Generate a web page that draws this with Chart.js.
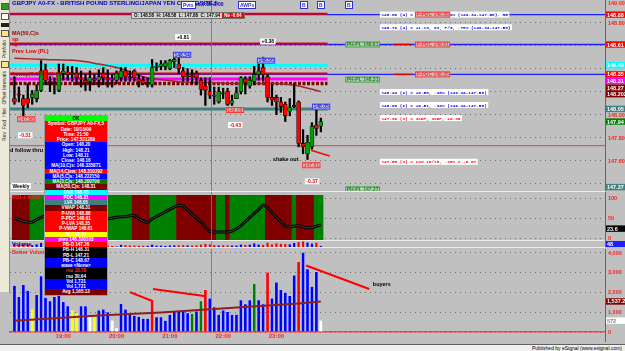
<!DOCTYPE html>
<html>
<head>
<meta charset="utf-8">
<title>GBPJPY A0-FX 5 min</title>
<script src="https://cdn.jsdelivr.net/npm/chart.js"></script>
<style>
  html, body { margin: 0; padding: 0; }
  body { width: 625px; height: 351px; background: #c0c0c0; position: relative; overflow: hidden;
         font-family: "Liberation Sans", Arial, sans-serif; }
  canvas { position: absolute; left: 0; }
  .sep { position: absolute; left: 10px; width: 595px; height: 1px; background: #ececec; }
  #tools { position: absolute; left: 0; top: 0; width: 9px; height: 292px; background: #ece9d8; border-right: 1px solid #8a8a8a; }
  #tools div { width: 6px; height: 5px; margin: 3px 1px 0 1px; border: 1px solid #555; background: #fff; }
  #tools span { display: block; writing-mode: vertical-rl; transform: rotate(180deg); font-size: 5px; color: #222; margin: 3px 0 0 1px; }
  #title { position: absolute; left: 12px; top: 0px; font: bold 6px "Liberation Sans"; color: #0000c0; white-space: nowrap; }
  .tb { position: absolute; top: 1px; height: 6px; border: 1px solid #3030d0; background: #fff; font: bold 5px "Liberation Sans"; color: #3030d0; line-height: 6px; padding: 0 1px; }
  #ohlc { position: absolute; left: 131px; top: 12px; height: 5px; background: #d8d8d8; border: 1px solid #707070;
          font: bold 4.5px "Liberation Sans"; line-height: 5px; color: #000; white-space: nowrap; padding-left: 2px; }
  #ohlc b { background: #ff0000; color: #fff; padding: 0 2px; margin-left: 2px; }
  #info { position: absolute; left: 44px; top: 115px; width: 62px; border: 1px solid #9a9a9a; background: #fff; }
  #info div { height: 5.25px; line-height: 5.25px; font: bold 4.6px "Liberation Sans"; text-align: center; white-space: nowrap; overflow: hidden; }
  #foot { position: absolute; left: 0; top: 344px; width: 625px; height: 7px; background: #f0f0f0; border-top: 1px solid #606060; }
  #foot span { position: absolute; right: 3px; top: 0; font: 5px "Liberation Sans"; color: #000; }
</style>
</head>
<body>
<canvas id="price" width="625" height="191" style="top:0"></canvas>
<canvas id="rsi" width="625" height="50" style="top:192px"></canvas>
<canvas id="strip" width="625" height="6" style="top:241px"></canvas>
<canvas id="vol" width="625" height="93" style="top:249px"></canvas>
<div class="sep" style="top:191px"></div>
<div class="sep" style="top:240px"></div>
<div class="sep" style="top:247px"></div>

<div id="tools">
  <div style="background:#2a9a2a"></div><div></div><div style="border-color:#222;background:#222;height:2px"></div>
  <div style="background:#ffe680"></div><span>Portfolio</span>
  <div style="background:#ffe680"></div><span>Offset Intervals</span><span>Hist</span><span>Fwd</span><span>Rev</span>
</div>
<div id="title">GBPJPY A0-FX - BRITISH POUND STERLING/JAPAN YEN COMPOSITE,5</div>
<div class="tb" style="left:181px">Pvts</div>
<div style="position:absolute;left:196px;top:1px;font:bold 5px 'Liberation Sans';color:#0000c0">m,0:00-0:00</div>
<div class="tb" style="left:238px">AWPs</div>
<div class="tb" style="left:300px">B</div>
<div class="tb" style="left:317px">B</div>
<div class="tb" style="left:345px">B</div>
<div id="ohlc">O: 148.58 &nbsp;H: 148.58 &nbsp;L: 147.88 &nbsp;C: 147.94<b>Ne -0.64</b></div>
<div id="info"></div>
<div id="foot"><span>Published by eSignal (www.esignal.com)</span></div>

<script>
// ---- price bars (5 min, 18:05 .. 23:50) ----
const opens  = [148.14,148.18,148.14,148.14,148.15,148.14,148.21,148.39,148.29,148.27,
                148.21,148.36,148.37,148.35,148.36,148.32,148.30,148.29,148.31,148.30,
                148.36,148.32,148.31,148.30,148.32,148.38,148.33,148.38,148.31,148.30,
                148.27,148.26,148.41,148.42,148.42,148.40,148.46,148.44,148.38,148.33,
                148.34,148.36,148.30,148.25,148.20,148.17,148.11,148.19,148.20,148.10,
                148.14,148.20,148.31,148.25,148.29,148.35,148.41,148.33,148.15,148.15,
                148.11,148.09,148.03,148.07,148.11,147.75,147.66,147.72,147.91,147.90];
const highs  = [148.33,148.24,148.17,148.27,148.21,148.26,148.47,148.44,148.33,148.32,
                148.44,148.44,148.42,148.42,148.41,148.38,148.35,148.38,148.35,148.39,
                148.41,148.39,148.35,148.38,148.41,148.41,148.38,148.39,148.35,148.33,
                148.32,148.48,148.45,148.47,148.47,148.48,148.54,148.51,148.41,148.40,
                148.39,148.38,148.32,148.32,148.32,148.24,148.24,148.23,148.23,148.17,
                148.24,148.33,148.33,148.33,148.42,148.44,148.50,148.35,148.26,148.17,
                148.15,148.11,148.14,148.27,148.12,147.87,147.82,147.93,148.05,147.97];
const lows   = [148.09,148.11,147.99,148.06,148.09,148.11,148.20,148.26,148.20,148.18,
                148.20,148.30,148.30,148.29,148.26,148.24,148.21,148.21,148.26,148.24,
                148.26,148.24,148.24,148.27,148.29,148.29,148.29,148.29,148.24,148.26,
                148.24,148.24,148.38,148.39,148.39,148.39,148.41,148.36,148.29,148.29,
                148.27,148.26,148.17,148.08,148.14,148.09,148.10,148.14,148.08,148.08,
                148.14,148.18,148.18,148.23,148.26,148.30,148.29,148.11,148.08,148.00,
                148.02,147.94,147.99,148.06,147.72,147.66,147.61,147.70,147.82,147.85];
const closes = [148.11,148.17,148.08,148.10,148.18,148.21,148.38,148.30,148.28,148.26,
                148.36,148.38,148.35,148.36,148.32,148.31,148.28,148.32,148.30,148.33,
                148.32,148.31,148.30,148.36,148.38,148.33,148.32,148.32,148.29,148.27,
                148.28,148.41,148.42,148.44,148.45,148.47,148.48,148.40,148.33,148.34,
                148.33,148.32,148.22,148.21,148.17,148.16,148.20,148.18,148.09,148.12,
                148.19,148.32,148.28,148.30,148.35,148.38,148.35,148.15,148.13,148.11,
                148.07,147.99,148.06,148.08,147.75,147.72,147.76,147.90,147.88,147.94];

// ---- MA(50,C) read at a few bars ----
const maBars = [1, 8, 15, 20, 25, 30, 35, 40, 45, 50, 55, 60, 65, 70];
const maVals = [148.49,148.48,148.47,148.44,148.40,148.33,148.30,148.28,148.28,148.27,148.27,148.27,148.25,148.20];

// ---- volume ----
const volumes = [2340,1770,2380,2080,1160,1870,2810,1730,1560,1770,
                 1870,1520,1300,1090, 950,1300,1300, 830, 830,1090,
                 1140,1000, 570, 200,1420,1140, 880, 830, 780, 670,
                  670,1560, 750, 750, 570, 880,1010,1040,1090, 950,
                  920,1040,1560,2130,1700,1250, 880,1090,1010, 880,
                  880,1610,1400,1610,2440,1610,1400,3000,1700,2500,
                 2130,1980,1820,2860,3540,4000,3170,2290,3030, 570];
const volKinds = 'bbbbybbbbbbbbyybbwybbbwwbbbbbbbrbbbbbbbbgbgrbbbbbbbbbbgbbrbbbbbbrbbbbw';
const volAvgBars = [1, 20, 34, 52, 65, 70];
const volAvgVals = [570, 830, 980, 1250, 1440, 1540];

// ---- RSI ----
const rsiBars = [1,3,4,5,7,9,12,15,18,20,22,24,26,28,29,30,31,32,34,36,38,39,41,43,45,46,47,48,49,50,52,54,56,57,58,60,62,63,64,65,66,67,68,69,70];
const rsiVals = [50,42,40,40,52,58,68,60,52,50,48,52,54,56,48,42,40,48,60,72,82,79,60,40,17,15,15,15,15,17,31,52,72,82,76,52,31,28,30,31,28,26,26,30,33];
const rsiTrend = 'ddddduuuuuuuddddddddduuuuuuudddduuuuuuddddddddduuduuuuuuuuddddddudddduuu'.slice(1, 71);

// ---- axes ----
const timeLabels = ['19:00', '20:00', '21:00', '22:00', '23:00'];
const timeTickBars = [12, 24, 36, 48, 60];
const priceTicks = [149.0, 148.8, 148.6, 148.4, 148.2, 148.0, 147.8, 147.6, 147.4];
const volTicks = [0, 1000, 2000, 3000, 4000];
const rsiTicks = [0, 50, 100];

// ---- reference levels ----
const prevDayLevels = [148.87, 148.61, 148.35];   // P-UVA, P-PDC, P-LVA
const valueAreaLevels = [148.43, 148.31, 148.27, 148.05]; // UVA, PDC, VWAP, LVA
const crossPrice = 147.73;
const crossBar = 45.3;

const priceTagVals = [148.87, 148.61, 148.43, 148.35, 148.31, 148.27, 148.2026, 148.05, 147.94, 147.37];
const priceTagText = ['148.88','148.61','148.43','148.35','148.31','148.27','148.2026','148.05','147.94','147.37'];

// ---------------- styling ----------------
const UP = '#00a000', DOWN = '#ff0000', AXIS_RED = '#e03030';
const LAST = 134;
const volColor = { b: '#0000ff', y: '#ffff00', w: '#ffffff', r: '#ff0000', g: '#008000' };
const priceTagColors = ['#ff0000','#ff0000','#00ffff','#ff0000','#ff00ff','#800000','#800000','#408080','#008000','#408080'];
const levelColors = ['#00ffff', '#ff00ff', '#800000', '#408080'];
const levelWidths = [3, 3, 3.5, 3];
const levelDash = [[], [], [3, 1.5], []];
const CANDLE_END = 71.5;

const bars = opens.map((o, i) => i + 1);

function segment(x0, x1, y) { return [{ x: x0, y: y }, { x: x1, y: y }]; }
function lineDs(data, color, width, order, extra) {
  return Object.assign({ type: 'line', data: data, borderColor: color, borderWidth: width,
    pointRadius: 0, fill: false, order: order }, extra || {});
}

function xAxis(show) {
  return {
    type: 'linear', min: 0, max: LAST, display: show, offset: false,
    grid: { display: false, drawTicks: false, offset: false },
    border: { display: show, color: '#ff4040', width: 1.5 },
    afterBuildTicks: s => { s.ticks = timeTickBars.map(v => ({ value: v })); },
    afterFit: s => { s.height = show ? 10 : 0; },
    ticks: { autoSkip: false, maxRotation: 0, padding: 1, color: '#ff2020',
             font: { family: 'Liberation Sans', size: 6, weight: 'bold' },
             callback: (v, i) => timeLabels[i] }
  };
}
function yAxis(min, max, ticks) {
  return {
    position: 'right', min: min, max: max,
    afterFit: s => { s.width = 20; },
    afterBuildTicks: s => { s.ticks = ticks.map(v => ({ value: v })); },
    ticks: { display: false },
    grid: { color: '#6e6e6e', lineWidth: 1, drawTicks: false },
    border: { display: false, dash: [1, 4] }
  };
}

function drawBox(ctx, x, y, text, font, bg, fg, outline) {
  ctx.font = font;
  const w = ctx.measureText(text).width + 3, h = 6;
  if (bg) { ctx.fillStyle = bg; ctx.fillRect(x, y - h / 2, w, h); }
  if (outline) { ctx.strokeStyle = outline; ctx.lineWidth = 1; ctx.strokeRect(x + 0.5, y - h / 2 + 0.5, w - 1, h - 1); }
  ctx.fillStyle = fg; ctx.textBaseline = 'middle'; ctx.textAlign = 'left';
  ctx.fillText(text, x + 1.5, y + 0.5);
}

// one decoration plugin per panel: axis line, labels, tags, notes, crosshair
function decor(cfg) {
  return {
    id: 'decor',
    afterDraw(chart) {
      const ctx = chart.ctx, a = chart.chartArea, xs = chart.scales.x, ys = chart.scales.y;
      ctx.save();
      const cx = Math.round(xs.getPixelForValue(crossBar)) + 0.5;
      ctx.strokeStyle = 'rgba(230,70,70,0.85)'; ctx.lineWidth = 1;
      ctx.beginPath(); ctx.moveTo(cx, 0); ctx.lineTo(cx, a.bottom); ctx.stroke();
      ctx.strokeStyle = AXIS_RED;
      ctx.beginPath(); ctx.moveTo(a.right + 0.5, 0); ctx.lineTo(a.right + 0.5, chart.height); ctx.stroke();
      const tagY = [];
      let prev = -99;
      (cfg.tags || []).forEach(t => {
        let y = ys.getPixelForValue(t.v);
        if (y < prev + 6.6) y = prev + 6.6;
        prev = y; tagY.push(y);
      });
      ctx.font = 'bold 5.5px "Liberation Sans"'; ctx.textBaseline = 'middle'; ctx.textAlign = 'left';
      ys.ticks.forEach(t => {
        const y = ys.getPixelForValue(t.value);
        if (tagY.some(ty => Math.abs(ty - y) < 5.5)) return;
        ctx.fillStyle = '#ff2020';
        ctx.fillText(cfg.fmt(t.value), a.right + 3, Math.max(3, y) + 0.5);
      });
      (cfg.tags || []).forEach((t, i) => {
        ctx.fillStyle = t.bg; ctx.fillRect(a.right + 1, tagY[i] - 3.2, 20, 6.4);
        ctx.fillStyle = t.fg || '#fff'; ctx.font = 'bold 5.5px "Liberation Sans"';
        ctx.fillText(t.t, a.right + 2, tagY[i] + 0.5);
      });
      (cfg.notes || []).forEach(n => {
        const x = xs.getPixelForValue(n.bar), y = ys.getPixelForValue(n.v);
        const mono = 'bold 4.4px "Liberation Mono"', sans = 'bold 5px "Liberation Sans"';
        if (n.k === 'wb') drawBox(ctx, x, y, n.t, mono, '#fff', '#0000e0');
        else if (n.k === 'wr') drawBox(ctx, x, y, n.t, mono, '#fff', '#ff0000');
        else if (n.k === 'w') drawBox(ctx, x, y, n.t, sans, '#fff', n.fg || '#000');
        else if (n.k === 'ob') drawBox(ctx, x, y, n.t, sans, '#c8c8f0', '#2020c0', '#3030ff');
        else if (n.k === 'or') drawBox(ctx, x, y, n.t, sans, '#d0c0c0', '#ff3030', '#ff3030');
        else if (n.k === 'og') drawBox(ctx, x, y, n.t, sans, '#b8d0b8', '#208020', '#40a040');
        else { ctx.font = 'bold 5.5px "Liberation Sans"'; ctx.fillStyle = n.fg || '#000';
               ctx.textBaseline = 'middle'; ctx.fillText(n.t, x, y); }
      });
      (cfg.captions || []).forEach(c => {
        ctx.font = 'bold 5.5px "Liberation Sans"'; ctx.fillStyle = c.c; ctx.textBaseline = 'middle';
        ctx.fillText(c.t, a.left + 2, a.top + c.dy);
      });
      ctx.restore();
    }
  };
}

const common = {
  responsive: false, animation: false, devicePixelRatio: 1, events: [],
  layout: { padding: { left: 10, right: 0, top: 0, bottom: 0 } },
  plugins: { legend: { display: false }, tooltip: { enabled: false } }
};

// ---------------- price panel ----------------
const priceDatasets = [
  { type: 'bar', data: bars.map((x, i) => ({ x: x, y: [opens[i], closes[i]] })),
    backgroundColor: bars.map((x, i) => closes[i] >= opens[i] ? UP : DOWN),
    borderColor: '#000', borderWidth: 0.6, borderSkipped: false,
    barThickness: 4, grouped: false, order: 1 },
  { type: 'bar', data: bars.map((x, i) => ({ x: x, y: [lows[i], highs[i]] })),
    backgroundColor: '#000', barThickness: 1.6, grouped: false, order: 2 },
  lineDs(maBars.map((b, i) => ({ x: b, y: maVals[i] })), '#a02828', 1.5, 3, { tension: 0.35 }),
  lineDs(segment(0, LAST, crossPrice), '#e04040', 1, 9)
];
prevDayLevels.forEach(p => {
  priceDatasets.push(lineDs(segment(0, LAST, p), '#2020ff', 1.3, 12));
  priceDatasets.push(lineDs(segment(0, CANDLE_END, p + 0.008), '#e00000', 2, 11));
});
priceDatasets.push(lineDs(segment(86.5, 90.5, 148.61), '#e00000', 1.5, 11));
priceDatasets.push(lineDs(segment(86.5, 90.5, 148.35), '#e00000', 1.5, 11));
valueAreaLevels.forEach((p, i) => {
  priceDatasets.push(lineDs(segment(0, CANDLE_END, p), levelColors[i], levelWidths[i], 10,
    { borderDash: levelDash[i] }));
});
priceDatasets.push(lineDs([{ x: 67.8, y: 147.69 }, { x: 72, y: 147.64 }], '#ff0000', 1.5, 0));

const priceNotes = [
  { t: '+0.81', bar: 37.2, v: 148.675, k: 'w' },
  { t: '+0.38', bar: 56.3, v: 148.636, k: 'w' },
  { t: '148.54', bar: 36.7, v: 148.52, k: 'ob' },
  { t: '148.50', bar: 55.6, v: 148.47, k: 'ob' },
  { t: '148.05', bar: 68.0, v: 148.07, k: 'ob' },
  { t: '147.96', bar: 1.6, v: 147.96, k: 'or' },
  { t: '148.06', bar: 48.6, v: 148.04, k: 'or' },
  { t: '147.61', bar: 65.8, v: 147.56, k: 'or' },
  { t: '-0.31', bar: 1.8, v: 147.82, k: 'w', fg: '#e00000' },
  { t: '-0.43', bar: 49.1, v: 147.91, k: 'w', fg: '#e00000' },
  { t: '-0.37', bar: 66.4, v: 147.42, k: 'w', fg: '#e00000' },
  { t: '148.86 (4) = +1.28, 5P, .86% (149.34-147.58). R5', bar: 83.3, v: 148.87, k: 'wb' },
  { t: '148.72 (4) = +1.19, 93, P/Z, .78% (149.34-147.58)', bar: 83.3, v: 148.76, k: 'wb' },
  { t: '148.24 (2) = +0.56, .38% (149.34-147.58)', bar: 83.3, v: 148.197, k: 'wb' },
  { t: '148.09 (2) = +0.51, .34% (149.34-147.58)', bar: 83.3, v: 148.084, k: 'wb' },
  { t: '147.96 (3) = 3SDP, 3SDP, +0.38', bar: 83.3, v: 147.97, k: 'wr' },
  { t: '147.58 (3) = Low 10/18, .38% = -0.07', bar: 83.3, v: 147.59, k: 'wr' },
  { t: 'P-PDC 148.88', bar: 91.2, v: 148.87, k: 'or' },
  { t: 'PH-PL 148.61', bar: 75.5, v: 148.61, k: 'og' },
  { t: 'P-PDC 148.61', bar: 91.2, v: 148.61, k: 'or' },
  { t: 'PH-PL 148.31', bar: 75.5, v: 148.305, k: 'og' },
  { t: 'P-PDC 148.35', bar: 91.2, v: 148.35, k: 'or' },
  { t: 'PH-PL 147.37', bar: 75.5, v: 147.35, k: 'og' },
  { t: 'shake out', bar: 59.2, v: 147.61, k: 'p' },
  { t: 'd follow thru', bar: 0, v: 147.69, k: 'p' },
  { t: 'Avwap(0,0,5,1,0) (1)', bar: 0.3, v: 148.345, k: 'p', fg: '#c00000' },
  { t: 'Weekly', bar: 0.2, v: 147.38, k: 'w' }
];

new Chart(document.getElementById('price'), {
  type: 'bar',
  data: { datasets: priceDatasets },
  options: Object.assign({}, common, {
    scales: { x: xAxis(false), y: yAxis(147.336, 148.997, priceTicks) }
  }),
  plugins: [decor({
    fmt: v => v.toFixed(2),
    tags: priceTagVals.map((v, i) => ({ v: v, t: priceTagText[i], bg: priceTagColors[i] })),
    notes: priceNotes,
    captions: [
      { t: 'MA(50,C)s', c: '#a00000', dy: 33 },
      { t: 'sp', c: '#e00000', dy: 39 },
      { t: 'op', c: '#e00000', dy: 44.5 },
      { t: 'Prev Low (PL)', c: '#e00000', dy: 51 }
    ]
  })]
});

// ---------------- RSI panel ----------------
new Chart(document.getElementById('rsi'), {
  type: 'bar',
  data: { datasets: [
    { type: 'bar', data: bars.map(x => ({ x: x, y: [-5, 110] })),
      backgroundColor: bars.map((x, i) => rsiTrend[i] === 'u' ? '#008000' : '#800000'),
      barPercentage: 1, categoryPercentage: 1, grouped: false, order: 3 },
    lineDs(rsiBars.map((b, i) => ({ x: b, y: rsiVals[i] })), '#000', 3, 1, { tension: 0.35 }),
    lineDs(rsiBars.map((b, i) => ({ x: b, y: rsiVals[i] })), '#5a5a5a', 0.7, 0, { tension: 0.35 })
  ] },
  options: Object.assign({}, common, {
    layout: { padding: { left: 10, right: 0, top: 3, bottom: 2 } },
    scales: { x: xAxis(false), y: yAxis(-5, 108, rsiTicks) }
  }),
  plugins: [decor({
    fmt: v => String(v),
    tags: [{ v: 23.6, t: '23.6', bg: '#000' }],
    captions: [{ t: 'RSI + trailing', c: '#ff2020', dy: 2 }]
  })]
});

// ---------------- volume strip ----------------
new Chart(document.getElementById('strip'), {
  type: 'bar',
  data: { datasets: [
    { type: 'bar', data: bars.map((x, i) => ({ x: x, y: volumes[i] })),
      backgroundColor: bars.map((x, i) => closes[i] < opens[i] ? '#ff0000' : '#0000ff'),
      barThickness: 1.5, grouped: false }
  ] },
  options: Object.assign({}, common, {
    scales: { x: xAxis(false), y: yAxis(0, 4600, []) }
  }),
  plugins: [decor({
    fmt: v => String(v),
    tags: [{ v: 2300, t: '48', bg: '#2020ff' }],
    captions: [{ t: 'Volume', c: '#0000d0', dy: 3 }]
  })]
});

// ---------------- volume panel ----------------
new Chart(document.getElementById('vol'), {
  type: 'bar',
  data: { datasets: [
    { type: 'bar', data: bars.map((x, i) => ({ x: x, y: volumes[i] })),
      backgroundColor: bars.map((x, i) => volColor[volKinds[i]]),
      borderColor: 'rgba(200,230,255,0.6)', borderWidth: 0.5,
      barThickness: 3, grouped: false, order: 2 },
    lineDs(volAvgBars.map((b, i) => ({ x: b, y: volAvgVals[i] })), '#8b2020', 2, 1),
    lineDs([{ x: 27, y: 2010 }, { x: 32.2, y: 1546 }], '#ff0000', 2, 0),
    lineDs([{ x: 32.2, y: 2165 }, { x: 44.1, y: 1804 }], '#ff0000', 2, 0),
    lineDs([{ x: 66.7, y: 3350 }, { x: 80.9, y: 2165 }], '#ff0000', 2, 0)
  ] },
  options: Object.assign({}, common, {
    scales: { x: xAxis(true), y: yAxis(0, 4180, volTicks) }
  }),
  plugins: [decor({
    fmt: v => v.toLocaleString('en-US'),
    tags: [{ v: 1537.2, t: '1,537.2', bg: '#800000' }, { v: 572, t: '572', bg: '#ffffff', fg: '#808080' }],
    notes: [{ t: 'buyers', bar: 81.7, v: 2370, k: 'p' }],
    captions: [{ t: 'Better Volume', c: '#ff2020', dy: 3 }]
  })]
});

// ---------------- data window ----------------
const infoRows = [
  ['OK', '#00ff00', '#000'], ['Symbol: GBPJPY A0-FX,5', '#ff0000'], ['Date: 10/18/09', '#ff0000'],
  ['Time: 21:50', '#ff0000'], ['Price: 147.531289', '#ff0000'], ['Open: 148.20', '#0000ff'],
  ['High: 148.21', '#0000ff'], ['Low: 148.11', '#0000ff'], ['Close: 148.16', '#0000ff'],
  ['MA(10,C)s: 148.335871', '#0000ff'], ['MA(14,C)ew: 148.310292', '#ff0000'],
  ['MA(5,C)s: 148.222150', '#0000ff'], ['MA(3,C)s: 148.200709', '#008000'],
  ['MA(50,C)s: 148.31', '#800000'], ['UVA 148.43', '#00ffff'], ['PDC 148.31', '#ff00ff'],
  ['LVA 148.05', '#408080'], ['VWAP 148.31', '#800000'], ['P-UVA 148.88', '#ff0000'],
  ['P-PDC 148.61', '#ff0000'], ['P-LVA 148.35', '#ff0000'], ['P-VWAP 148.61', '#ff0000'],
  ['PL 147.37', '#ffff00'], ['pivo 148.320103', '#ff00ff'], ['PB-D 147.26', '#ff0000'],
  ['PB-H 148.31', '#000'], ['PB-L 147.21', '#000'], ['PB-C 148.67', '#0000ff'],
  ['wave <None>', '#0000ff'], ['rsu 18.78', '#000', '#ff3030'], ['rsu 30.64', '#000'],
  ['Vol 1,721', '#0000ff'], ['Vol 1,721', '#0000ff'], ['Avg 1,165.13', '#800000']
];
const info = document.getElementById('info');
infoRows.forEach(r => {
  const d = document.createElement('div');
  d.textContent = r[0];
  d.style.background = r[1];
  d.style.color = r[2] || '#fff';
  info.appendChild(d);
});
</script>
</body>
</html>
